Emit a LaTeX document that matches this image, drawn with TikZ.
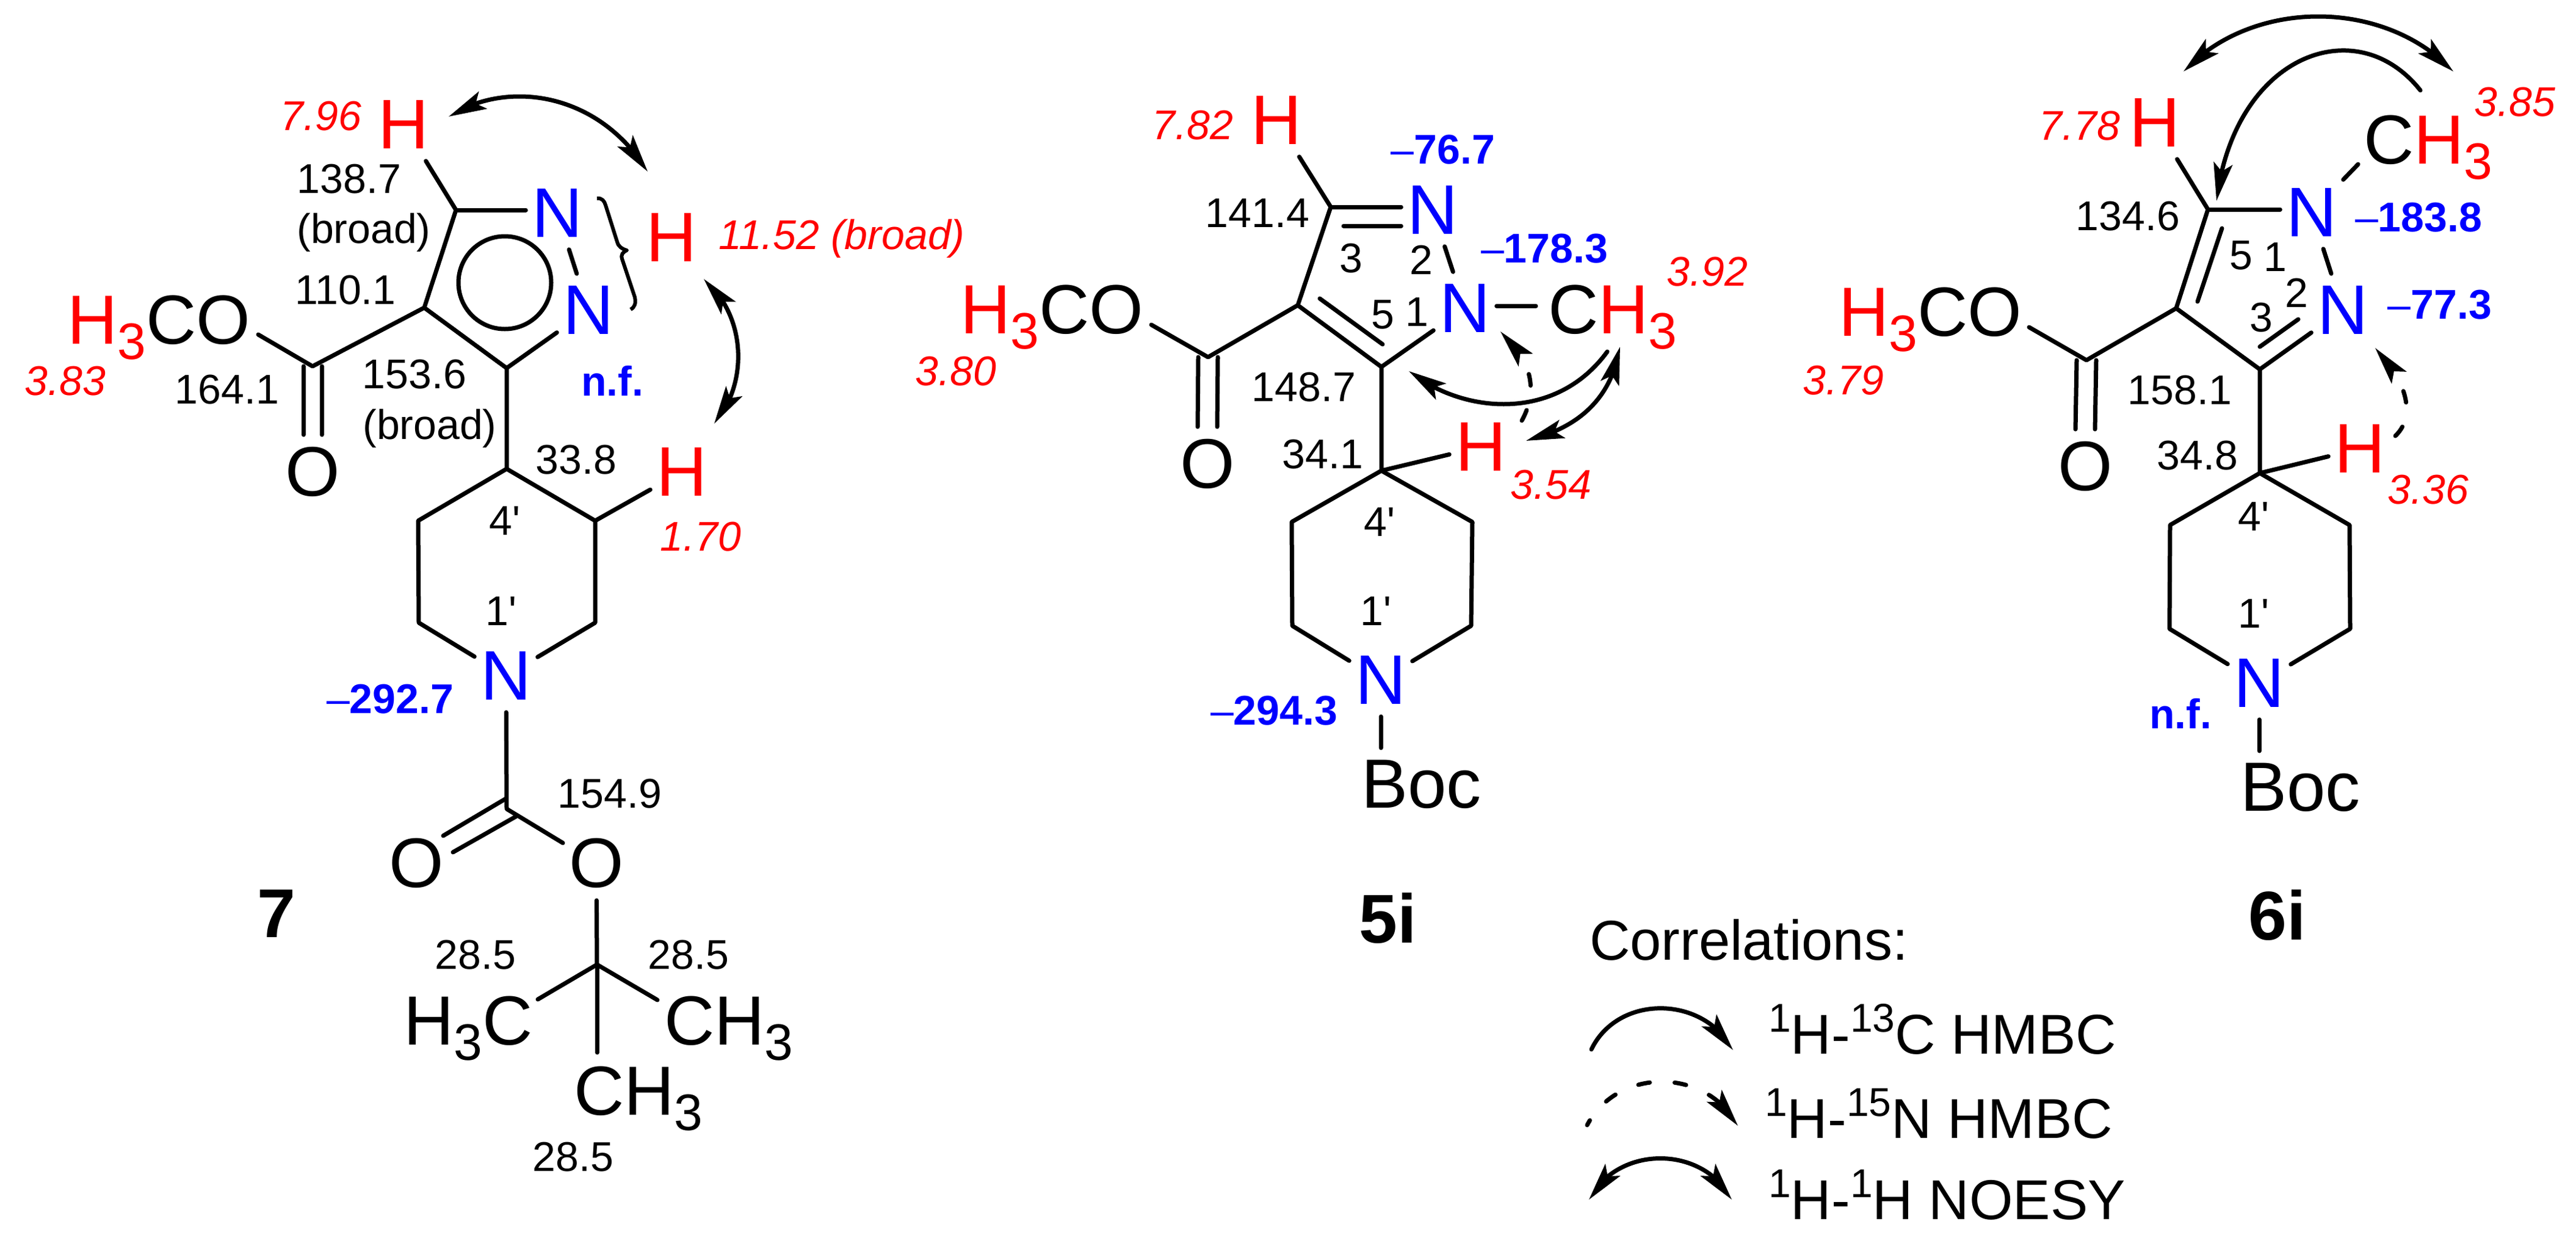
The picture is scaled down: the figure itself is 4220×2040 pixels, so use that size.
\documentclass[tikz,border=0pt]{standalone}
\usepackage{fontspec}
\setmainfont{Liberation Sans}[Ligatures=TeXOff]
\usetikzlibrary{arrows.meta,bending}
\newcommand{\fsize}[1]{\fontsize{#1}{#1}\selectfont}
\newcommand{\subnum}[1]{\lower25pt\hbox{\fsize{84}#1}}
\newcommand{\supnum}[1]{\raisebox{36pt}{\fsize{66}#1}}
\newcommand{\redH}{\textcolor{red}{H\subnum{3}}}
\tikzset{
    tipa/.tip={Stealth[length=62pt,width=31pt,inset=13pt,flex=1]},
    bond/.style={line width=7pt,line cap=round,line join=round},
    atom/.style={font=\fsize{115},inner xsep=10pt,inner ysep=20pt},
    atomH/.style={atom,text=red},
    atomN/.style={atom,text=blue},
    atomgroup/.style={font=\fsize{114},inner sep=0pt,anchor=base west},
    num/.style={font=\fsize{68},inner sep=0pt},
    hshift/.style={num,text=red,font=\fsize{68}\itshape},
    nshift/.style={num,text=blue,font=\fsize{68}\bfseries},
    cpdname/.style={font=\fsize{113}\bfseries,inner sep=0pt},
    legtext/.style={font=\fsize{92},inner sep=0pt,anchor=base west},
    noesy/.style={bond,tipa-tipa},
    hmbc/.style={bond,-tipa},
    nhmbc/.style={bond,-tipa,dash pattern=on 19pt off 41pt},
}
\begin{document}
\begin{tikzpicture}[x=1pt,y=-1pt]
    \useasboundingbox (0,0) rectangle (4220,2040);

    % compound 7
    \coordinate (CHa)   at (747,344);
    \coordinate (C4a)   at (695,504);
    \coordinate (C3a)   at (830,603);
    \coordinate (Cesta) at (512,600);
    \coordinate (Etha)  at (423,548);
    \coordinate (Cpipa) at (830,768);
    \coordinate (Cl1a)  at (685,853);
    \coordinate (Cl2a)  at (686,1020);
    \coordinate (Cr1a)  at (975,853);
    \coordinate (Cr2a)  at (975,1020);
    \coordinate (Cboca) at (830,1325);
    \coordinate (Dbl1a) at (829,1308);
    \coordinate (Dbl2a) at (726,1369);
    \coordinate (Dbl3a) at (846,1337);
    \coordinate (Dbl4a) at (742,1396);
    \coordinate (Cbua)  at (978,1580);
    \coordinate (Me1a)  at (881,1637);
    \coordinate (Me2a)  at (1077,1638);
    \coordinate (Me3a)  at (978,1724);

    \node at (661,204)  (Ha1)  [atomH] {H};
    \node at (1100,389) (Ha2)  [atomH] {H};
    \node at (1117,773) (Ha3)  [atomH] {H};
    \node at (913,349)  (N1a)  [atomN] {N};
    \node at (964,508)  (N2a)  [atomN] {N};
    \node at (829,1107) (N3a)  [atomN] {N};
    \node at (512,773)  (Oa1)  [atom]  {O};
    \node at (682,1414) (Oa2)  [atom]  {O};
    \node at (977,1414) (Oa3)  [atom]  {O};
    \node at (110,563)  (OMea) [atomgroup] {\redH CO};
    \node at (661,1711) (Mea1) [atomgroup] {H\subnum{3}C};
    \node at (1088,1711) (Mea2) [atomgroup] {CH\subnum{3}};
    \node at (940,1826) (Mea3) [atomgroup] {CH\subnum{3}};

    \draw [bond] (CHa) -- (Ha1);
    \draw [bond] (CHa) -- (CHa -| N1a.west);
    \draw [bond] (CHa) -- (C4a) -- (C3a) -- (N2a);
    \draw [bond] (N1a) -- (N2a);
    \draw [bond] (827,463) circle (76);
    \draw [bond] (C4a) -- (Cesta) -- (Etha);
    \draw [bond] ([xshift=-15pt]Cesta) -- ([xshift=-15pt]Oa1.north);
    \draw [bond] ([xshift=15pt]Cesta) -- ([xshift=15pt]Oa1.north);
    \draw [bond] (C3a) -- (Cpipa) -- (Cl1a) -- (Cl2a) -- (N3a);
    \draw [bond] (Cpipa) -- (Cr1a) -- (Cr2a) -- (N3a);
    \draw [bond] (Cr1a) -- (Ha3);
    \draw [bond] (N3a) -- (Cboca) -- (Oa3) -- (Cbua);
    \draw [bond] (Dbl1a) -- (Dbl2a);
    \draw [bond] (Dbl3a) -- (Dbl4a);
    \draw [bond] (Cbua) -- (Me1a);
    \draw [bond] (Cbua) -- (Me2a);
    \draw [bond] (Cbua) -- (Me3a);
    \draw [bond,line width=6pt,line cap=butt] (978,325) .. controls (986,324) and (990,329) .. (992,336) -- (1011,396) .. controls (1013,404) and (1019,408) .. (1027,410) .. controls (1020,413) and (1017,417) .. (1019,424) -- (1040,487) .. controls (1042,497) and (1040,503) .. (1033,507);

    \node at (526,190)  (sa1)  [hshift] {7.96};
    \node at (1379,391) (sa2)  [hshift] {11.52 (broad)};
    \node at (1148,879) (sa3)  [hshift] {1.70};
    \node at (107,624)  (sa4)  [hshift] {3.83};
    \node at (1003,624) (sa5)  [nshift] {n.f.};
    \node at (639,1145) (sa6)  [nshift] {{\mdseries –}292.7};
    \node at (572,293)  (ca1)  [num] {138.7};
    \node at (596,381)  (ca2)  [num] {(broad)};
    \node at (566,475)  (ca3)  [num] {110.1};
    \node at (372,638)  (ca4)  [num] {164.1};
    \node at (679,613)  (ca5)  [num] {153.6};
    \node at (704,702)  (ca6)  [num] {(broad)};
    \node at (944,753)  (ca7)  [num] {33.8};
    \node at (827,853)  (ca8)  [num] {4'};
    \node at (821,1001) (ca9)  [num] {1'};
    \node at (999,1300) (ca10) [num] {154.9};
    \node at (779,1564) (ca11) [num] {28.5};
    \node at (1128,1564) (ca12) [num] {28.5};
    \node at (939,1895) (ca13) [num] {28.5};
    \node at (453,1497) (Namea) [cpdname] {7};

    \coordinate (Aa1) at (735,191);
    \coordinate (Aa2) at (1061,281);
    \coordinate (Aa3) at (1153,457);
    \coordinate (Aa4) at (1170,694);
    \draw [noesy] (Aa1) .. controls (830,130) and (980,150) .. (Aa2);
    \draw [noesy] (Aa3) .. controls (1225,520) and (1225,630) .. (Aa4);

    % compound 5i
    \coordinate (C3b)   at (2180,339);
    \coordinate (D3b)   at (2201,370);
    \coordinate (C4b)   at (2126,500);
    \coordinate (C5b)   at (2263,601);
    \coordinate (D4b)   at (2162,489);
    \coordinate (D5b)   at (2265,564);
    \coordinate (Cestb) at (1979,585);
    \coordinate (Ethb)  at (1886,532);
    \coordinate (Cpipb) at (2263,771);
    \coordinate (Cl1b)  at (2116,855);
    \coordinate (Cl2b)  at (2117,1025);
    \coordinate (Cr1b)  at (2412,855);
    \coordinate (Cr2b)  at (2410,1025);
    \coordinate (Nmeb)  at (2516,501);
    \coordinate (Btb)   at (2262,1225);

    \node at (2091,197)  (Hb1)  [atomH] {H};
    \node at (2426,732)  (Hb2)  [atomH] {H};
    \node at (2347,344)  (N2b)  [atomN] {N};
    \node at (2400,505)  (N1b)  [atomN] {N};
    \node at (2262,1114) (N3b)  [atomN] {N};
    \node at (1978,760)  (Ob1)  [atom]  {O};
    \node at (1573,546)  (OMeb) [atomgroup] {\redH CO};
    \node at (2536,546)  (Meb)  [atomgroup] {C\redH};
    \node at (2230,1323) (Bocb) [atomgroup] {Boc};

    \draw [bond] (C3b) -- (Hb1);
    \draw [bond] (C3b) -- (C3b -| N2b.west);
    \draw [bond] (D3b) -- (D3b -| N2b.west);
    \draw [bond] (C3b) -- (C4b) -- (C5b) -- (N1b);
    \draw [bond] (D4b) -- (D5b);
    \draw [bond] (N2b) -- (N1b);
    \draw [bond] (N1b.east |- Nmeb) -- (Nmeb);
    \draw [bond] (C4b) -- (Cestb) -- (Ethb);
    \draw [bond] ([xshift=-16pt]Cestb) -- ([xshift=-16pt]Ob1.north);
    \draw [bond] ([xshift=16pt]Cestb) -- ([xshift=16pt]Ob1.north);
    \draw [bond] (C5b) -- (Cpipb) -- (Hb2);
    \draw [bond] (Cpipb) -- (Cl1b) -- (Cl2b) -- (N3b);
    \draw [bond] (Cpipb) -- (Cr1b) -- (Cr2b) -- (N3b);
    \draw [bond] (N3b) -- (Btb);

    \node at (1954,205)  (sb1)  [hshift] {7.82};
    \node at (2797,445)  (sb2)  [hshift] {3.92};
    \node at (2541,794)  (sb3)  [hshift] {3.54};
    \node at (1566,608)  (sb4)  [hshift] {3.80};
    \node at (2364,245)  (sb5)  [nshift] {{\mdseries –}76.7};
    \node at (2530,407)  (sb6)  [nshift] {{\mdseries –}178.3};
    \node at (2087,1164) (sb7)  [nshift] {{\mdseries –}294.3};
    \node at (2060,349)  (cb1)  [num] {141.4};
    \node at (2213,423)  (cb2)  [num] {3};
    \node at (2328,426)  (cb3)  [num] {2};
    \node at (2265,515)  (cb4)  [num] {5};
    \node at (2321,511)  (cb5)  [num] {1};
    \node at (2136,634)  (cb6)  [num] {148.7};
    \node at (2167,744)  (cb7)  [num] {34.1};
    \node at (2260,855)  (cb8)  [num] {4'};
    \node at (2254,1001) (cb9)  [num] {1'};
    \node at (2274,1504) (Nameb) [cpdname] {5i};

    \coordinate (Ab1) at (2633,576);
    \coordinate (Ab2) at (2308,608);
    \coordinate (Ab3) at (2654,568);
    \coordinate (Ab4) at (2500,722);
    \coordinate (Ab5) at (2493,689);
    \coordinate (Ab6) at (2458,543);
    \draw [hmbc]  (Ab1) .. controls (2550,690) and (2400,680) .. (Ab2);
    \draw [noesy] (Ab3) .. controls (2640,650) and (2590,700) .. (Ab4);
    \draw [nhmbc] (Ab5) .. controls (2520,640) and (2510,590) .. (Ab6);

    % compound 6i
    \coordinate (C5c)   at (3617,343);
    \coordinate (C4c)   at (3565,505);
    \coordinate (C3c)   at (3702,605);
    \coordinate (D5c)   at (3640,374);
    \coordinate (D4c)   at (3600,494);
    \coordinate (D3c)   at (3702,568);
    \coordinate (D2c)   at (3765,523);
    \coordinate (Cestc) at (3418,590);
    \coordinate (Ethc)  at (3324,536);
    \coordinate (Nmec)  at (3863,269);
    \coordinate (Cpipc) at (3702,775);
    \coordinate (Cl1c)  at (3555,860);
    \coordinate (Cl2c)  at (3554,1030);
    \coordinate (Cr1c)  at (3849,860);
    \coordinate (Cr2c)  at (3850,1030);
    \coordinate (Btc)   at (3701,1230);

    \node at (3530,201)  (Hc1)  [atomH] {H};
    \node at (3866,735)  (Hc2)  [atomH] {H};
    \node at (3787,348)  (N1c)  [atomN] {N};
    \node at (3838,508)  (N2c)  [atomN] {N};
    \node at (3701,1119) (N3c)  [atomN] {N};
    \node at (3416,764)  (Oc1)  [atom]  {O};
    \node at (3012,550)  (OMec) [atomgroup] {\redH CO};
    \node at (3872,268)  (Mec)  [atomgroup] {C\redH};
    \node at (3670,1328) (Bocc) [atomgroup] {Boc};

    \draw [bond] (C5c) -- (Hc1);
    \draw [bond] (C5c) -- (C5c -| N1c.west);
    \draw [bond] (C5c) -- (C4c) -- (C3c) -- (N2c);
    \draw [bond] (D5c) -- (D4c);
    \draw [bond] (D3c) -- (D2c);
    \draw [bond] (N1c) -- (N2c);
    \draw [bond] (N1c) -- (Nmec);
    \draw [bond] (C4c) -- (Cestc) -- (Ethc);
    \draw [bond] ([xshift=-16pt]Cestc) -- ([xshift=-16pt]Oc1.north);
    \draw [bond] ([xshift=16pt]Cestc) -- ([xshift=16pt]Oc1.north);
    \draw [bond] (C3c) -- (Cpipc) -- (Hc2);
    \draw [bond] (Cpipc) -- (Cl1c) -- (Cl2c) -- (N3c);
    \draw [bond] (Cpipc) -- (Cr1c) -- (Cr2c) -- (N3c);
    \draw [bond] (N3c) -- (Btc);

    \node at (3407,206)  (sc1)  [hshift] {7.78};
    \node at (4120,167)  (sc2)  [hshift] {3.85};
    \node at (3978,802)  (sc3)  [hshift] {3.36};
    \node at (3020,623)  (sc4)  [hshift] {3.79};
    \node at (3962,356)  (sc5)  [nshift] {{\mdseries –}183.8};
    \node at (3997,499)  (sc6)  [nshift] {{\mdseries –}77.3};
    \node at (3572,1169) (sc7)  [nshift] {n.f.};
    \node at (3486,354)  (cc1)  [num] {134.6};
    \node at (3671,418)  (cc2)  [num] {5};
    \node at (3727,421)  (cc3)  [num] {1};
    \node at (3762,480)  (cc4)  [num] {2};
    \node at (3704,520)  (cc5)  [num] {3};
    \node at (3571,639)  (cc6)  [num] {158.1};
    \node at (3600,746)  (cc7)  [num] {34.8};
    \node at (3692,846)  (cc8)  [num] {4'};
    \node at (3692,1005) (cc9)  [num] {1'};
    \node at (3731,1499) (Namec) [cpdname] {6i};

    \coordinate (Ac1) at (3577,117);
    \coordinate (Ac2) at (4019,117);
    \coordinate (Ac3) at (3965,148);
    \coordinate (Ac4) at (3631,329);
    \coordinate (Ac5) at (3924,714);
    \coordinate (Ac6) at (3891,570);
    \draw [noesy] (Ac1) .. controls (3690,-3) and (3905,-3) .. (Ac2);
    \draw [hmbc]  (Ac3) .. controls (3860,15) and (3660,90) .. (Ac4);
    \draw [nhmbc] (Ac5) .. controls (3960,680) and (3940,620) .. (Ac6);

    % legend
    \node at (2604,1572) (Legend) [legtext] {Correlations:};
    \node at (2897,1726) (Leg1)   [legtext] {\supnum{1}H-\supnum{13}C HMBC};
    \node at (2891,1864) (Leg2)   [legtext] {\supnum{1}H-\supnum{15}N HMBC};
    \node at (2897,1997) (Leg3)   [legtext] {\supnum{1}H-\supnum{1}H NOESY};

    \coordinate (Lg1) at (2607,1719);
    \coordinate (Lg2) at (2839,1720);
    \coordinate (Lg3) at (2600,1843);
    \coordinate (Lg4) at (2847,1844);
    \coordinate (Lg5) at (2603,1965);
    \coordinate (Lg6) at (2837,1965);
    \draw [hmbc]  (Lg1) .. controls (2650,1629) and (2790,1629) .. (Lg2);
    \draw [nhmbc,dash phase=10pt] (Lg3) .. controls (2650,1748) and (2795,1748) .. (Lg4);
    \draw [noesy] (Lg5) .. controls (2650,1875) and (2790,1875) .. (Lg6);
\end{tikzpicture}
\end{document}
